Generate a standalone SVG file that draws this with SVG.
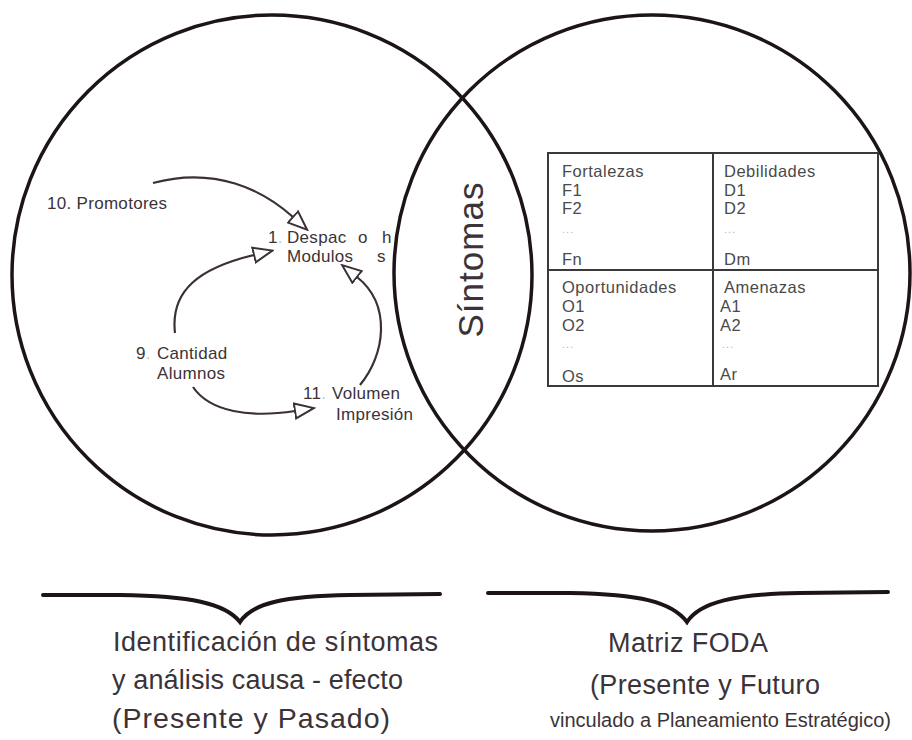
<svg xmlns="http://www.w3.org/2000/svg" width="912" height="740" viewBox="0 0 912 740">
  <style>
    .ring { fill: none; stroke: #1c1418; stroke-width: 3.5; }
    .brace { fill: none; stroke: #1c1418; stroke-width: 4; stroke-linecap: round; }
    .link { fill: none; stroke: #3a3035; stroke-width: 2.2; }
    .lbl { font-family: "Liberation Sans", Arial, sans-serif; font-size: 17px; letter-spacing: 0.3px; fill: #3b3338; }
    .dot { fill: #c8c4c6; }
    .cell { font-family: "Liberation Sans", Arial, sans-serif; font-size: 16.5px; letter-spacing: 0.5px; fill: #4a4a4a; }
    .ell { font-family: "Liberation Sans", Arial, sans-serif; font-size: 11px; letter-spacing: 1px; fill: #b5b5b5; }
    .big { font-family: "Liberation Sans", Arial, sans-serif; font-size: 27px; fill: #3b3338; }
    .wide { font-size: 28.5px; }
    .small { font-size: 20px; }
    .grid { fill: none; stroke: #3a3a3a; stroke-width: 2; }
  </style>
  <defs>
    <marker id="open-head" markerUnits="userSpaceOnUse" markerWidth="22" markerHeight="18" viewBox="0 0 22 18" refX="1" refY="9" orient="auto">
      <path d="M1,1.5 L20,9 L1,16.5 Z" fill="#ffffff" stroke="#3a3035" stroke-width="2" stroke-linejoin="miter"/>
    </marker>
  </defs>
  <rect width="912" height="740" fill="#ffffff"/>

  <!-- two overlapping circles -->
  <g id="circle-left">
    <circle class="ring" cx="272" cy="275" r="260"/>
  </g>
  <g id="circle-right">
    <circle class="ring" cx="652" cy="273" r="258"/>
  </g>

  <!-- overlap label -->
  <g id="sintomas">
    <text transform="translate(483,260) rotate(-90)" text-anchor="middle" font-family="Liberation Sans, Arial, sans-serif" font-size="35" fill="#3b3338" textLength="155" lengthAdjust="spacing">Síntomas</text>
  </g>

  <!-- cause-effect nodes -->
  <g id="node-promotores">
    <text class="lbl" x="47" y="209">10. Promotores</text>
  </g>
  <g id="node-despacho">
    <text class="lbl" x="268" y="243">1<tspan class="dot">.</tspan></text>
    <text class="lbl" x="287" y="243">Despac</text>
    <text class="lbl" x="358" y="243">o</text>
    <text class="lbl" x="382" y="243">h</text>
    <text class="lbl" x="287" y="262">Modulos</text>
    <text class="lbl" x="377" y="262">s</text>
  </g>
  <g id="node-cantidad">
    <text class="lbl" x="136" y="359">9<tspan class="dot">.</tspan></text>
    <text class="lbl" x="157" y="359">Cantidad</text>
    <text class="lbl" x="157" y="379">Alumnos</text>
  </g>
  <g id="node-volumen">
    <text class="lbl" x="303" y="399">11<tspan class="dot">.</tspan></text>
    <text class="lbl" x="332" y="399">Volumen</text>
    <text class="lbl" x="336" y="420">Impresión</text>
  </g>

  <!-- connectors -->
  <g id="connectors">
    <path class="link" d="M153,183 C215,166 263,190 293,217" marker-end="url(#open-head)"/>
    <path class="link" d="M175,333 C170,290 200,268 254,255" marker-end="url(#open-head)"/>
    <path class="link" d="M360,385 C385,355 392,305 357,277" marker-end="url(#open-head)"/>
    <path class="link" d="M193,387 C210,412 250,418 295,411" marker-end="url(#open-head)"/>
  </g>

  <!-- FODA matrix -->
  <g id="foda-matrix">
    <rect class="grid" x="548" y="153" width="330" height="233"/>
    <line class="grid" x1="713" y1="153" x2="713" y2="386"/>
    <line class="grid" x1="548" y1="270" x2="878" y2="270"/>

    <text class="cell" x="562" y="177">Fortalezas</text>
    <text class="cell" x="562" y="196">F1</text>
    <text class="cell" x="562" y="214">F2</text>
    <text class="ell" x="562" y="233">...</text>
    <text class="cell" x="562" y="265">Fn</text>

    <text class="cell" x="724" y="177">Debilidades</text>
    <text class="cell" x="724" y="196">D1</text>
    <text class="cell" x="724" y="214">D2</text>
    <text class="ell" x="724" y="233">...</text>
    <text class="cell" x="724" y="265">Dm</text>

    <text class="cell" x="562" y="293">Oportunidades</text>
    <text class="cell" x="562" y="312">O1</text>
    <text class="cell" x="562" y="331">O2</text>
    <text class="ell" x="562" y="348">...</text>
    <text class="cell" x="562" y="382">Os</text>

    <text class="cell" x="724" y="293">Amenazas</text>
    <text class="cell" x="720" y="312">A1</text>
    <text class="cell" x="720" y="331">A2</text>
    <text class="ell" x="722" y="348">...</text>
    <text class="cell" x="720" y="380">Ar</text>
  </g>

  <!-- braces and captions -->
  <g id="caption-left">
    <path class="brace" d="M43,595 L120,595 C190,596 225,603 240,622 C252,603 285,596 350,595 L440,594"/>
    <text class="big" x="113" y="651" textLength="325" lengthAdjust="spacing">Identificación de síntomas</text>
    <text class="big" x="112" y="689" textLength="291" lengthAdjust="spacing">y análisis causa - efecto</text>
    <text class="big wide" x="112" y="728" textLength="278" lengthAdjust="spacing">(Presente y Pasado)</text>
  </g>
  <g id="caption-right">
    <path class="brace" d="M488,593 L570,593 C640,594 672,602 687,622 C700,602 735,594 800,593 L888,592"/>
    <text class="big" x="608" y="652" textLength="160" lengthAdjust="spacing">Matriz FODA</text>
    <text class="big" x="590" y="694" textLength="230" lengthAdjust="spacing">(Presente y Futuro</text>
    <text class="big small" x="550" y="727" textLength="341" lengthAdjust="spacing">vinculado a Planeamiento Estratégico)</text>
  </g>
</svg>
